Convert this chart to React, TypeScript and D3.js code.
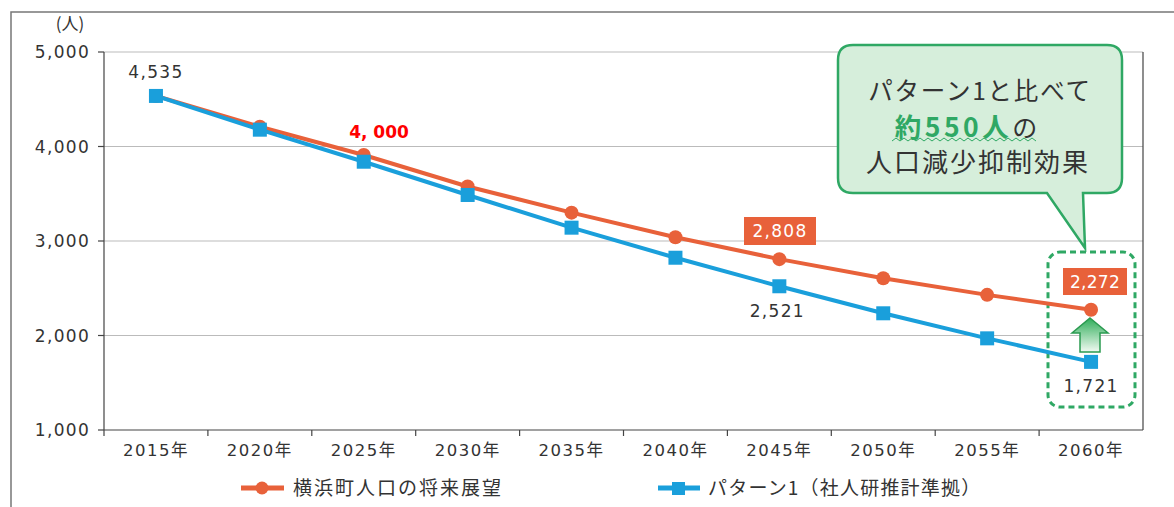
import React from "react";
import * as d3 from "d3";

const years = ["2015年", "2020年", "2025年", "2030年", "2035年", "2040年", "2045年", "2050年", "2055年", "2060年"];
const vision = [4535, 4209, 3910, 3577, 3300, 3040, 2808, 2606, 2430, 2272];
const pattern1 = [4535, 4178, 3839, 3487, 3141, 2823, 2521, 2235, 1970, 1721];
const yTicks = [1000, 2000, 3000, 4000, 5000];
const seriesNames = ["横浜町人口の将来展望", "パターン1（社人研推計準拠）"];

const W = 1174;
const H = 507;
const L = 104, R = 1143, T = 52, B = 430;
const ORANGE = "#e8613a";
const BLUE = "#1a9fdb";
const GREEN = "#2fa864";
const FONT = "'Noto Sans CJK JP', 'Noto Sans', sans-serif";
const NUM = "'DejaVu Sans', 'Noto Sans CJK JP', sans-serif";

export default function App() {
  const x = d3.scaleBand<string>().domain(years).range([L, R]);
  const y = d3.scaleLinear().domain([1000, 5000]).range([B, T]);
  const cx = (i: number) => (x(years[i]) as number) + x.bandwidth() / 2;
  const line = d3.line<number>().x((_, i) => cx(i)).y((d) => y(d));
  const last = years.length - 1;
  const fmt = d3.format(",");
  const numProps = { fontFamily: NUM, fontSize: 17, letterSpacing: 1.3, fill: "#333" };

  return (
    <svg width={W} height={H} style={{ position: "absolute", left: 0, top: 0, background: "#fff" }} fontFamily={FONT}>
      <defs>
        <linearGradient id="arrowGrad" x1="0" y1="0" x2="0" y2="1">
          <stop offset="0" stopColor="#2fae5a" />
          <stop offset="1" stopColor="#f2faf2" />
        </linearGradient>
      </defs>
      {/* outer frame */}
      <path d={`M11,${H} L11,12 L${W},12`} fill="none" stroke="#777" strokeWidth={1.5} />
      {/* gridlines */}
      {yTicks.slice(1).map((t) => (
        <line key={t} x1={L} x2={R} y1={y(t)} y2={y(t)} stroke="#bbb" strokeWidth={1.2} />
      ))}
      {/* axes */}
      <line x1={L} x2={L} y1={T} y2={B} stroke="#444" strokeWidth={1.2} />
      <line x1={R} x2={R} y1={T} y2={B} stroke="#444" strokeWidth={1.2} />
      <line x1={L} x2={R} y1={B} y2={B} stroke="#444" strokeWidth={1.2} />
      {yTicks.map((t) => (
        <g key={t}>
          <line x1={L - 6} x2={L} y1={y(t)} y2={y(t)} stroke="#444" strokeWidth={1.2} />
          <text x={90} y={y(t)} dy="0.36em" textAnchor="end" {...numProps}>
            {fmt(t)}
          </text>
        </g>
      ))}
      <text x={70} y={30} textAnchor="middle" fontSize={17} fill="#333">(人)</text>
      {years.map((yr, i) => (
        <g key={yr}>
          <line x1={x(yr) as number} x2={x(yr) as number} y1={B} y2={B + 6} stroke="#444" strokeWidth={1.2} />
          <text x={cx(i)} y={450} dy="0.36em" textAnchor="middle" fontFamily={NUM} fontSize={16.5} letterSpacing={1.5} fill="#333">{yr}</text>
        </g>
      ))}
      {/* dashed box */}
      <rect x={1048} y={252} width={87} height={155} rx={12} fill="none" stroke={GREEN} strokeWidth={3} strokeDasharray="6 4" />
      {/* lines */}
      <path d={line(vision) || ""} fill="none" stroke={ORANGE} strokeWidth={4} />
      <path d={line(pattern1) || ""} fill="none" stroke={BLUE} strokeWidth={4} />
      {vision.map((v, i) => (
        <circle key={"o" + i} cx={cx(i)} cy={y(v)} r={7} fill={ORANGE} />
      ))}
      {pattern1.map((v, i) => (
        <rect key={"b" + i} x={cx(i) - 7} y={y(v) - 7} width={14} height={14} fill={BLUE} />
      ))}
      {/* data labels */}
      <text x={cx(0)} y={72} dy="0.36em" textAnchor="middle" {...numProps}>{fmt(vision[0])}</text>
      <text x={379} y={138} textAnchor="middle" fontSize={17} fontWeight="bold" fill="#ff0000" fontFamily="'DejaVu Sans', sans-serif">4, 000</text>
      <rect x={744} y={217} width={72} height={28} fill={ORANGE} />
      <text x={780} y={231} dy="0.36em" textAnchor="middle" {...numProps} fill="#fff">{fmt(vision[6])}</text>
      <text x={cx(6) - 2} y={311} dy="0.36em" textAnchor="middle" {...numProps}>{fmt(pattern1[6])}</text>
      <rect x={1063} y={268} width={64} height={27} fill={ORANGE} />
      <text x={1095} y={281.5} dy="0.36em" textAnchor="middle" {...numProps} letterSpacing={0.3} fill="#fff">{fmt(vision[last])}</text>
      <text x={cx(last)} y={386} dy="0.36em" textAnchor="middle" {...numProps}>{fmt(pattern1[last])}</text>
      {/* arrow */}
      <path d="M1090,318 L1108,333 L1100,333 L1100,352 L1080,352 L1080,333 L1072,333 Z" fill="url(#arrowGrad)" stroke="#2a9a50" strokeWidth={1.5} />
      {/* callout */}
      <path
        d="M853,45 L1107,45 Q1122,45 1122,60 L1122,178 Q1122,193 1107,193 L1083,193 L1085,248 L1047,193 L853,193 Q838,193 838,178 L838,60 Q838,45 853,45 Z"
        fill="#d6eedb"
        stroke={GREEN}
        strokeWidth={2.5}
      />
      <text x={980} y={91} dy="0.35em" textAnchor="middle" fontSize={24.5} letterSpacing={1.8} fill="#333">パターン1と比べて</text>
      <text x={966} y={128} dy="0.35em" textAnchor="middle" fontSize={25} fill="#333">
        <tspan fill={GREEN} fontWeight="bold" fontSize={26.5} letterSpacing={3.5}>約550人</tspan>
        <tspan>の</tspan>
      </text>
      <path
        d={d3.range(0, 37).map((k) => `${k === 0 ? "M" : "L"}${892 + k * 4},${k % 2 ? 138 : 141}`).join(" ")}
        fill="none"
        stroke={GREEN}
        strokeWidth={1}
      />
      <text x={978} y={163} dy="0.35em" textAnchor="middle" fontSize={26} letterSpacing={2} fill="#333">人口減少抑制効果</text>
      {/* legend */}
      <line x1={241} x2={284} y1={488} y2={488} stroke={ORANGE} strokeWidth={5} />
      <circle cx={262} cy={488} r={6.5} fill={ORANGE} />
      <text x={293} y={488} dy="0.35em" fontSize={19} letterSpacing={2} fill="#333">{seriesNames[0]}</text>
      <line x1={658} x2={700} y1={488} y2={488} stroke={BLUE} strokeWidth={5} />
      <rect x={672} y={482} width={13} height={13} fill={BLUE} />
      <text x={708} y={488} dy="0.35em" fontSize={19} letterSpacing={1.2} fill="#333">{seriesNames[1]}</text>
    </svg>
  );
}
